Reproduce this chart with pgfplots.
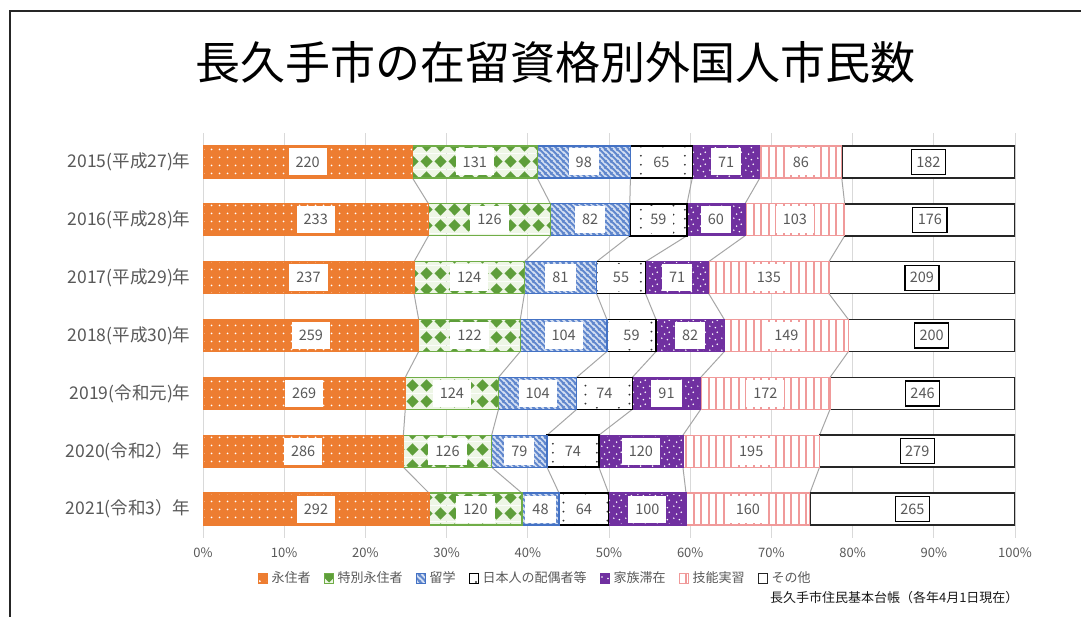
\documentclass[border=0pt]{standalone}
\usepackage{fontspec}
\setmainfont{Noto Sans CJK JP}
\usepackage{pgfplots}
\pgfplotsset{compat=1.18}
\usepackage{pgfplotstable}
\usetikzlibrary{patterns}

\definecolor{corange}{HTML}{ED7D31}
\definecolor{cgreen}{HTML}{70AD47}
\definecolor{cgreendk}{HTML}{5E9E3A}
\definecolor{cgreenbg}{HTML}{EEF6E6}
\definecolor{cblue}{HTML}{4472C4}
\definecolor{cbluebg}{HTML}{D5E0F3}
\definecolor{cpurple}{HTML}{7030A0}
\definecolor{cpink}{HTML}{F09A9A}
\definecolor{labgray}{HTML}{595959}
\definecolor{gridgray}{HTML}{D9D9D9}
\definecolor{linegray}{HTML}{A6A6A6}

% white dot grid (orange)
\pgfdeclarepatternformonly{wdots}{\pgfqpoint{0pt}{0pt}}{\pgfqpoint{8pt}{8pt}}{\pgfqpoint{8pt}{8pt}}{%
  \pgfpathcircle{\pgfqpoint{4pt}{4pt}}{1.1pt}\pgfusepath{fill}}
% scattered dots (purple)
\pgfdeclarepatternformonly{pdots}{\pgfqpoint{0pt}{0pt}}{\pgfqpoint{12pt}{12pt}}{\pgfqpoint{12pt}{12pt}}{%
  \pgfpathcircle{\pgfqpoint{2pt}{3pt}}{0.9pt}
  \pgfpathcircle{\pgfqpoint{8pt}{1.5pt}}{0.9pt}
  \pgfpathcircle{\pgfqpoint{5pt}{7.5pt}}{0.9pt}
  \pgfpathcircle{\pgfqpoint{10pt}{9.5pt}}{0.9pt}
  \pgfusepath{fill}}
% sparse black dots
\pgfdeclarepatternformonly{bdots}{\pgfqpoint{0pt}{0pt}}{\pgfqpoint{22pt}{9pt}}{\pgfqpoint{22pt}{9pt}}{%
  \pgfpathcircle{\pgfqpoint{3pt}{2.5pt}}{1.1pt}
  \pgfpathcircle{\pgfqpoint{14pt}{7pt}}{1.1pt}
  \pgfusepath{fill}}
% vertical lines (pink)
\pgfdeclarepatternformonly{vlines}{\pgfqpoint{0pt}{-1pt}}{\pgfqpoint{7.5pt}{9pt}}{\pgfqpoint{7.5pt}{8pt}}{%
  \pgfsetlinewidth{1.8pt}
  \pgfpathmoveto{\pgfqpoint{3.75pt}{-1pt}}\pgfpathlineto{\pgfqpoint{3.75pt}{9pt}}
  \pgfusepath{stroke}}
% diagonal stripes (blue)
\pgfdeclarepatternformonly{dstripes}{\pgfqpoint{0pt}{0pt}}{\pgfqpoint{6pt}{6pt}}{\pgfqpoint{6pt}{6pt}}{%
  \pgfsetlinewidth{2.2pt}
  \pgfpathmoveto{\pgfqpoint{-1pt}{1pt}}\pgfpathlineto{\pgfqpoint{1pt}{-1pt}}
  \pgfpathmoveto{\pgfqpoint{-1pt}{7pt}}\pgfpathlineto{\pgfqpoint{7pt}{-1pt}}
  \pgfpathmoveto{\pgfqpoint{5pt}{7pt}}\pgfpathlineto{\pgfqpoint{7pt}{5pt}}
  \pgfusepath{stroke}}
% green diamonds
\pgfdeclarepatterninherentlycolored{gdia}{\pgfqpoint{0pt}{0pt}}{\pgfqpoint{14pt}{16pt}}{\pgfqpoint{14pt}{16pt}}{%
  \pgfsetfillcolor{cgreenbg}
  \pgfpathrectangle{\pgfqpoint{0pt}{0pt}}{\pgfqpoint{14pt}{16pt}}\pgfusepath{fill}
  \pgfsetfillcolor{cgreendk}
  \pgfpathmoveto{\pgfqpoint{7pt}{1.5pt}}\pgfpathlineto{\pgfqpoint{13.5pt}{8pt}}
  \pgfpathlineto{\pgfqpoint{7pt}{14.5pt}}\pgfpathlineto{\pgfqpoint{0.5pt}{8pt}}
  \pgfpathclose\pgfusepath{fill}}

\pgfplotstableread{
y a b c d e f g
0 220 131 98 65 71 86 182
1 233 126 82 59 60 103 176
2 237 124 81 55 71 135 209
3 259 122 104 59 82 149 200
4 269 124 104 74 91 172 246
5 286 126 79 74 120 195 279
6 292 120 48 64 100 160 265
}\data

\pgfplotstableread{
y s a b c d e f g
0 -1 220 131 98 65 71 86 182
0 1 220 131 98 65 71 86 182
1 -1 233 126 82 59 60 103 176
1 1 233 126 82 59 60 103 176
2 -1 237 124 81 55 71 135 209
2 1 237 124 81 55 71 135 209
3 -1 259 122 104 59 82 149 200
3 1 259 122 104 59 82 149 200
4 -1 269 124 104 74 91 172 246
4 1 269 124 104 74 91 172 246
5 -1 286 126 79 74 120 195 279
5 1 286 126 79 74 120 195 279
6 -1 292 120 48 64 100 160 265
6 1 292 120 48 64 100 160 265
}\slines

\newcommand{\rowsum}{(\thisrow{a}+\thisrow{b}+\thisrow{c}+\thisrow{d}+\thisrow{e}+\thisrow{f}+\thisrow{g})}

\pgfplotsset{common/.style={at={(203pt,-538pt)}, anchor=south west, scale only axis,
  width=812pt, height=405pt, xmin=0, xmax=100, ymin=-0.5, ymax=6.5, y dir=reverse}}

\begin{document}
\begin{tikzpicture}
\useasboundingbox (0pt,0pt) rectangle (1081pt,-616pt);
\fill[white] (0pt,0pt) rectangle (1081pt,-616pt);
\draw[line width=2pt, black!85] (10pt,-620pt) -- (10pt,-11pt) -- (1085pt,-11pt);
\node[font=\fontsize{45}{50}\selectfont, text=black] at (555pt,-62pt) {長久手市の在留資格別外国人市民数};

% axis A: grid, tick labels, series lines
\begin{axis}[common,
  axis line style={draw=none}, major tick length=0pt,
  xtick={0,10,...,100}, xticklabel={\pgfmathprintnumber{\tick}\%},
  /pgf/number format/assume math mode=true,
  xmajorgrids, major grid style={draw=gridgray, line width=1pt},
  ytick={0,...,6},
  yticklabels={2015(平成27)年,2016(平成28)年,2017(平成29)年,2018(平成30)年,2019(令和元)年,2020(令和2）年,2021(令和3）年},
  xticklabel style={font=\fontsize{13}{15}\selectfont, text=labgray, yshift=-6pt},
  yticklabel style={font=\fontsize{17.5}{20}\selectfont, text=labgray, xshift=-9pt},
  clip=false]
\addplot[linegray, line width=1pt] table[x expr={\thisrow{a}/\rowsum*100}, y expr={\thisrow{y}+0.2765*\thisrow{s}}]{\slines};
\addplot[linegray, line width=1pt] table[x expr={(\thisrow{a}+\thisrow{b})/\rowsum*100}, y expr={\thisrow{y}+0.2765*\thisrow{s}}]{\slines};
\addplot[linegray, line width=1pt] table[x expr={(\thisrow{a}+\thisrow{b}+\thisrow{c})/\rowsum*100}, y expr={\thisrow{y}+0.2765*\thisrow{s}}]{\slines};
\addplot[linegray, line width=1pt] table[x expr={(\thisrow{a}+\thisrow{b}+\thisrow{c}+\thisrow{d})/\rowsum*100}, y expr={\thisrow{y}+0.2765*\thisrow{s}}]{\slines};
\addplot[linegray, line width=1pt] table[x expr={(\thisrow{a}+\thisrow{b}+\thisrow{c}+\thisrow{d}+\thisrow{e})/\rowsum*100}, y expr={\thisrow{y}+0.2765*\thisrow{s}}]{\slines};
\addplot[linegray, line width=1pt] table[x expr={(\thisrow{a}+\thisrow{b}+\thisrow{c}+\thisrow{d}+\thisrow{e}+\thisrow{f})/\rowsum*100}, y expr={\thisrow{y}+0.2765*\thisrow{s}}]{\slines};
\end{axis}

% axis B: bars + legend
\begin{axis}[common, hide axis, xbar stacked, bar width=32pt,
  legend columns=7,
  legend image code/.code={\draw[#1, line width=1pt] (0pt,-5pt) rectangle (9pt,5pt);},
  legend style={draw=none, fill=none, inner sep=0pt, font=\fontsize{13}{15}\selectfont, text=labgray,
    at={(0.067,-0.0988)}, anchor=west,
    /tikz/every odd column/.append style={column sep=2pt},
    /tikz/every even column/.append style={column sep=11pt}},
  ]
\addplot[fill=corange, draw=corange, line width=1.2pt, postaction={pattern=wdots, pattern color=white}]
  table[x expr={\thisrow{a}/\rowsum*100}, y=y]{\data};
\addplot[pattern=gdia, draw=cgreen, line width=1.2pt]
  table[x expr={\thisrow{b}/\rowsum*100}, y=y]{\data};
\addplot[fill=cbluebg, draw=cblue, line width=1.2pt, postaction={pattern=dstripes, pattern color=cblue!85}]
  table[x expr={\thisrow{c}/\rowsum*100}, y=y]{\data};
\addplot[fill=white, draw=black, line width=1.5pt, postaction={pattern=bdots, pattern color=black!80}]
  table[x expr={\thisrow{d}/\rowsum*100}, y=y]{\data};
\addplot[fill=cpurple, draw=cpurple, line width=1.2pt, postaction={pattern=pdots, pattern color=white}]
  table[x expr={\thisrow{e}/\rowsum*100}, y=y]{\data};
\addplot[fill=white, draw=cpink, line width=1.2pt, postaction={pattern=vlines, pattern color=cpink}]
  table[x expr={\thisrow{f}/\rowsum*100}, y=y]{\data};
\addplot[fill=white, draw=black!85, line width=1.5pt]
  table[x expr={\thisrow{g}/\rowsum*100}, y=y]{\data};
\legend{永住者,特別永住者,留学,日本人の配偶者等,家族滞在,技能実習,その他}
\end{axis}

% axis C: value labels
\begin{axis}[common, hide axis, clip=false,
  nodes near coords, point meta=explicit symbolic, nodes near coords align={center},
  every node near coord/.append style={fill=white, inner xsep=7pt, inner ysep=0pt,
    minimum height=27pt, font=\fontsize{14.5}{16}\selectfont, text=labgray}]
\addplot[draw=none] table[x expr={(\thisrow{a}/2)/\rowsum*100}, y=y, meta=a]{\data};
\addplot[draw=none] table[x expr={(\thisrow{a}+\thisrow{b}/2)/\rowsum*100}, y=y, meta=b]{\data};
\addplot[draw=none] table[x expr={(\thisrow{a}+\thisrow{b}+\thisrow{c}/2)/\rowsum*100}, y=y, meta=c]{\data};
\addplot[draw=none] table[x expr={(\thisrow{a}+\thisrow{b}+\thisrow{c}+\thisrow{d}/2)/\rowsum*100}, y=y, meta=d]{\data};
\addplot[draw=none] table[x expr={(\thisrow{a}+\thisrow{b}+\thisrow{c}+\thisrow{d}+\thisrow{e}/2)/\rowsum*100}, y=y, meta=e]{\data};
\addplot[draw=none] table[x expr={(\thisrow{a}+\thisrow{b}+\thisrow{c}+\thisrow{d}+\thisrow{e}+\thisrow{f}/2)/\rowsum*100}, y=y, meta=f]{\data};
\addplot[draw=none, every node near coord/.append style={draw=black, line width=1.3pt, inner xsep=5pt, minimum height=25pt}]
  table[x expr={(\thisrow{a}+\thisrow{b}+\thisrow{c}+\thisrow{d}+\thisrow{e}+\thisrow{f}+\thisrow{g}/2)/\rowsum*100}, y=y, meta=g]{\data};
\end{axis}

\node[anchor=east, font=\fontsize{13}{15}\selectfont, text=black!90] at (1022pt,-598pt) {長久手市住民基本台帳（各年4月1日現在）};
\end{tikzpicture}
\end{document}
